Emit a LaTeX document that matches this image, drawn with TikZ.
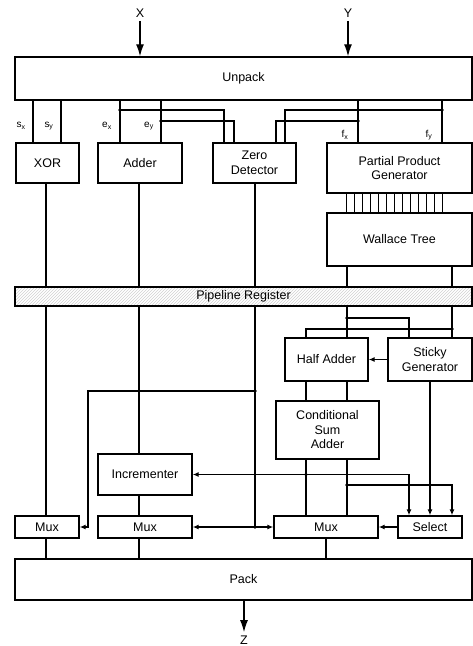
\documentclass[tikz,border=0pt]{standalone}
\usepackage{fontspec}
\setmainfont{Liberation Sans}
\usetikzlibrary{arrows.meta, calc, patterns}

\begin{document}
\begin{tikzpicture}[
        x=1pt, y=-1pt,
        font=\fontsize{12.5}{14.5}\selectfont,
        block/.style={
          rectangle, draw, line width=1.4pt, fill=white,
          inner sep=1pt, align=center
        },
        wire/.style={line width=1.25pt},
        sig/.style={wire, -{Latex[length=6pt, width=5pt]}},
        bisig/.style={wire, {Latex[length=6pt, width=5pt]}-{Latex[length=6pt, width=5pt]}},
        io/.style={line width=1.3pt, -{Latex[length=12pt, width=8pt]}},
        dot/.style={circle, fill, inner sep=0pt, minimum size=3.8pt},
        tag/.style={font=\fontsize{10}{12}\selectfont, inner sep=0pt}
      ]
      \useasboundingbox (0,0) rectangle (473,646);

      % --- FILAS DE BLOQUES ---
      \node[block, minimum width=457, minimum height=43] (unpack) at (243.5,78.5) {Unpack};
      \node[block, minimum width=63, minimum height=40] (xor) at (47.5,163) {XOR};
      \node[block, minimum width=84, minimum height=40] (adder) at (140,163) {Adder};
      \node[block, minimum width=83, minimum height=40] (zero) at (254.5,163) {Zero\\Detector};
      \node[block, minimum width=145, minimum height=50] (ppg) at (399.5,168) {Partial Product\\Generator};
      \node[block, minimum width=145, minimum height=53] (wallace) at (399.5,239.5) {Wallace Tree};
      \node[block, pattern=north east lines, pattern color=black!18,
            minimum width=457, minimum height=19] (pipe) at (243.5,296.5) {Pipeline Register};
      \node[block, minimum width=83, minimum height=43] (halfadd) at (326.5,359.5) {Half Adder};
      \node[block, minimum width=84, minimum height=43] (sticky) at (430,359.5) {Sticky\\Generator};
      \node[block, minimum width=103, minimum height=58] (csa) at (327.5,430) {Conditional\\Sum\\Adder};
      \node[block, minimum width=94, minimum height=41] (incr) at (145,474.5) {Incrementer};
      \node[block, minimum width=64, minimum height=22] (mux1) at (47,527) {Mux};
      \node[block, minimum width=94, minimum height=22] (mux2) at (145,527) {Mux};
      \node[block, minimum width=104, minimum height=22] (mux3) at (326,527) {Mux};
      \node[block, minimum width=64, minimum height=22] (select) at (430,527) {Select};
      \node[block, minimum width=457, minimum height=41] (pack) at (243.5,579.5) {Pack};

      % --- ENTRADAS Y SALIDA ---
      \node (xin) at (140,13) {X};
      \node (yin) at (348,13) {Y};
      \node (zout) at (244,640) {Z};
      \draw[io] (xin.south) -- (xin |- unpack.north);
      \draw[io] (yin.south) -- (yin |- unpack.north);
      \draw[io] (zout |- pack.south) -- (zout.north);

      % --- POSICIONES DE LOS HILOS ---
      \coordinate (sx) at (33,0);   \coordinate (sy) at (61,0);
      \coordinate (ex) at (120,0);  \coordinate (ey) at (161,0);
      \coordinate (fx) at (358,0);  \coordinate (fy) at (442,0);
      \coordinate (zA) at (224,0);  \coordinate (zB) at (234,0);
      \coordinate (zC) at (276,0);  \coordinate (zD) at (285,0);
      \coordinate (xo) at (46,0);   \coordinate (ad) at (139,0);
      \coordinate (zo) at (255,0);  \coordinate (lft) at (88,0);
      \coordinate (wA) at (347,0);  \coordinate (wB) at (452,0);
      \coordinate (hA) at (306,0);  \coordinate (sA) at (409,0);
      \coordinate (busA) at (0,110); \coordinate (busB) at (0,121);
      \coordinate (lvA) at (0,391);  \coordinate (lvB) at (0,318);
      \coordinate (lvC) at (0,329);  \coordinate (lvD) at (0,485);

      % --- SALIDAS DE UNPACK ---
      \draw[wire] (sx |- unpack.south) -- (sx |- xor.north);
      \draw[wire] (sy |- unpack.south) -- (sy |- xor.north);
      \draw[wire] (ex |- unpack.south) -- (ex |- adder.north);
      \draw[wire] (ey |- unpack.south) -- (ey |- adder.north);
      \draw[wire] (fx |- unpack.south) -- (fx |- ppg.north);
      \draw[wire] (fy |- unpack.south) -- (fy |- ppg.north);
      \draw[wire] (ex |- busA) -| (zA |- zero.north);
      \draw[wire] (ey |- busB) -| (zB |- zero.north);
      \draw[wire] (fx |- busB) -| (zC |- zero.north);
      \draw[wire] (fy |- busA) -| (zD |- zero.north);
      \node[dot] at (ex |- busA) {};
      \node[dot] at (ey |- busB) {};
      \node[dot] at (fx |- busB) {};
      \node[dot] at (fy |- busA) {};
      \node[tag] at (21,126) {s\textsubscript{x}};
      \node[tag] at (49,126) {s\textsubscript{y}};
      \node[tag] at (107,126) {e\textsubscript{x}};
      \node[tag] at (149,126) {e\textsubscript{y}};
      \node[tag] at (345,135) {f\textsubscript{x}};
      \node[tag] at (429,135) {f\textsubscript{y}};

      % --- PRODUCTOS PARCIALES ---
      \foreach \i in {0,...,12}
        \draw[wire] ($(ppg.south west)+(20+8*\i,0)$) -- ++(0,20);

      % --- HACIA EL REGISTRO ---
      \draw[wire] (xo |- xor.south) -- (xo |- pipe.north);
      \draw[wire] (ad |- adder.south) -- (ad |- pipe.north);
      \draw[wire] (zo |- zero.south) -- (zo |- pipe.north);
      \draw[wire] (wA |- wallace.south) -- (wA |- pipe.north);
      \draw[wire] (wB |- wallace.south) -- (wB |- pipe.north);

      % --- ETAPA DE REDONDEO ---
      \draw[wire] (wA |- pipe.south) -- (wA |- halfadd.north);
      \draw[wire] (wB |- pipe.south) -- (wB |- sticky.north);
      \draw[wire] (wA |- lvB) -| (sA |- sticky.north);
      \draw[wire] (wB |- lvC) -| (hA |- halfadd.north);
      \node[dot] at (wA |- lvB) {};
      \node[dot] at (wB |- lvC) {};
      \draw[sig] (sticky.west) -- (halfadd.east);
      \draw[wire] (hA |- halfadd.south) -- (hA |- csa.north);
      \draw[wire] (wA |- halfadd.south) -- (wA |- csa.north);
      \draw[wire] (hA |- csa.south) -- (hA |- mux3.north);
      \draw[wire] (wA |- csa.south) -- (wA |- mux3.north);
      \draw[sig] (hA |- incr.east) -- (incr.east);
      \draw[sig] (hA |- incr.east) -| (sA |- select.north);
      \draw[sig] (wA |- lvD) -| (wB |- select.north);
      \node[dot] at (hA |- incr.east) {};
      \node[dot] at (wA |- lvD) {};
      \draw[sig] (sticky.south) -- (select.north);
      \draw[sig] (select.west) -- (mux3.east);

      % --- MULTIPLEXORES ---
      \draw[wire] (xo |- pipe.south) -- (xo |- mux1.north);
      \draw[wire] (ad |- pipe.south) -- (ad |- incr.north);
      \draw[wire] (ad |- incr.south) -- (ad |- mux2.north);
      \draw[wire] (zo |- pipe.south) -- (zo |- mux2.east);
      \draw[sig] (zo |- lvA) -| (lft |- mux1.east) -- (mux1.east);
      \draw[bisig] (mux2.east) -- (mux3.west);
      \node[dot] at (zo |- lvA) {};
      \node[dot] at (zo |- mux2.east) {};

      % --- HACIA PACK ---
      \draw[wire] (xo |- mux1.south) -- (xo |- pack.north);
      \draw[wire] (ad |- mux2.south) -- (ad |- pack.north);
      \draw[wire] (mux3.south) -- (mux3.south |- pack.north);

    \end{tikzpicture}
\end{document}
